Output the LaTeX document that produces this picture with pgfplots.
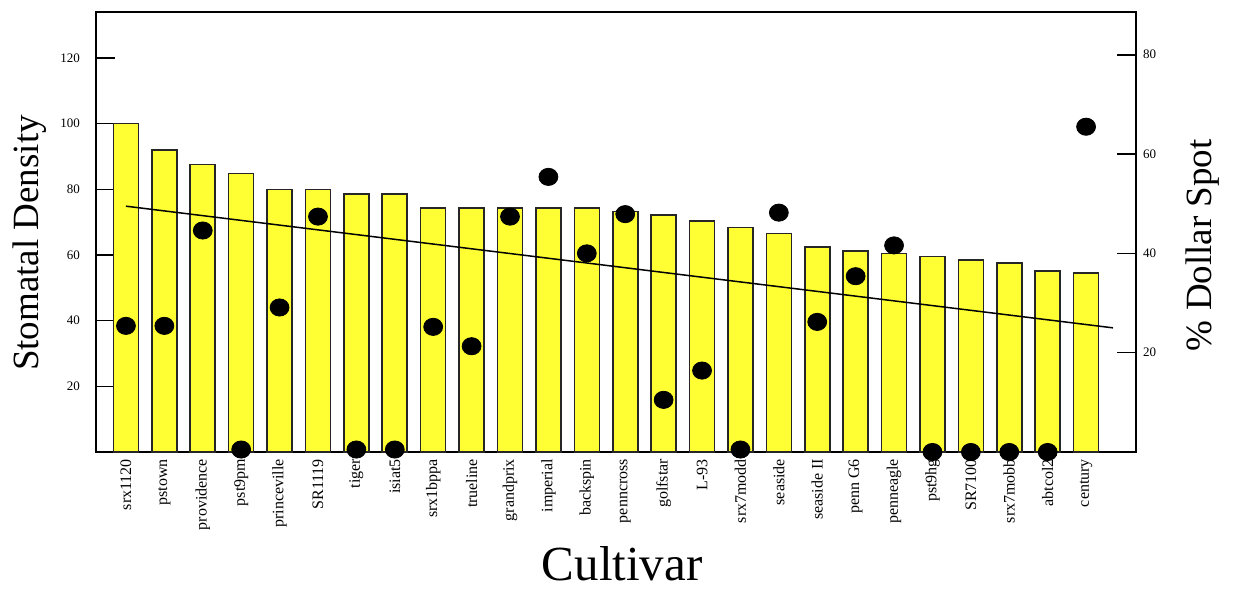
\documentclass[border=0pt]{standalone}
\usepackage{fontspec}
\setmainfont{Liberation Serif}
\usepackage{pgfplots}
\pgfplotsset{compat=1.18}
\definecolor{baryellow}{HTML}{FFFF33}
\begin{document}
\begin{tikzpicture}
\begin{axis}[name=main, scale only axis, width=520pt, height=220pt,
  xmin=-0.78, xmax=26.3, ymin=0, ymax=134,
  axis line style={line width=1pt},
  xtick={0,...,25},
  xticklabels={srx1120,pstown,providence,pst9pm,princeville,SR1119,tiger,isiat5,srx1bppa,trueline,grandprix,imperial,backspin,penncross,golfstar,L-93,srx7modd,seaside,seaside II,penn G6,penneagle,pst9hg,SR7100,srx7mobb,abtcol2,century},
  xticklabel style={rotate=90, anchor=east, font=\fontsize{8}{9}\selectfont},
  major x tick style={draw=none},
  ytick={20,40,60,80,100,120},
  ytick pos=left, tick align=inside, major tick length=9.5pt,
  major tick style={line width=0.8pt, black},
  yticklabel style={font=\fontsize{6.5}{7}\selectfont, xshift=-4.5pt},
  /pgf/number format/assume math mode=true,
  ylabel={Stomatal Density},
  ylabel style={at={(axis description cs:-0.0635,0.475)}, anchor=center, font=\fontsize{18.5}{20}\selectfont},
  xlabel={Cultivar},
  xlabel style={at={(axis description cs:0.506,-0.255)}, anchor=center, inner sep=0pt, font=\fontsize{24.5}{27}\selectfont},
]
\addplot[ybar, bar width=12.5pt, fill=baryellow, draw=black!85, line width=0.8pt] coordinates {
(0,100) (1,92) (2,87.5) (3,84.8) (4,80) (5,80) (6,78.6) (7,78.6) (8,74.4) (9,74.4)
(10,74.3) (11,74.3) (12,74.3) (13,73.2) (14,72.2) (15,70.4) (16,68.4) (17,66.5) (18,62.4) (19,61.3)
(20,60.5) (21,59.5) (22,58.4) (23,57.5) (24,55.2) (25,54.5)};
\end{axis}
\begin{axis}[scale only axis, width=520pt, height=220pt,
  xmin=-0.78, xmax=26.3, ymin=0, ymax=88.6,
  axis x line=none, axis y line*=right,
  axis line style={line width=1pt},
  ytick={20,40,60,80},
  tick align=inside, major tick length=9.5pt,
  major tick style={line width=0.8pt, black},
  yticklabel style={font=\fontsize{6.5}{7}\selectfont},
  /pgf/number format/assume math mode=true,
  clip=false,
  ylabel={\% Dollar Spot},
  ylabel style={at={(axis description cs:1.064,0.47)}, anchor=center, font=\fontsize{18.5}{20}\selectfont},
]
\addplot[black, line width=0.75pt] coordinates {(0,49.5) (25.7,25.0)};
\addplot[only marks, mark=*, mark size=4.3pt, mark options={xscale=1.1, fill=black, draw=black}] coordinates {
(0,25.4) (1,25.4) (2,44.6) (3,0.5) (4,29.1) (5,47.4) (6,0.5) (7,0.5) (8,25.2) (9,21.3)
(10,47.4) (11,55.4) (12,40.0) (13,47.9) (14,10.5) (15,16.4) (16,0.5) (17,48.2) (18,26.2) (19,35.4)
(20,41.6) (21,0) (22,0) (23,0) (24,0) (25,65.5)};
\end{axis}
\pgfresetboundingbox
\path ([xshift=-48pt,yshift=-69.5pt]main.south west) rectangle ([xshift=48.5pt,yshift=6pt]main.north east);
\end{tikzpicture}
\end{document}
